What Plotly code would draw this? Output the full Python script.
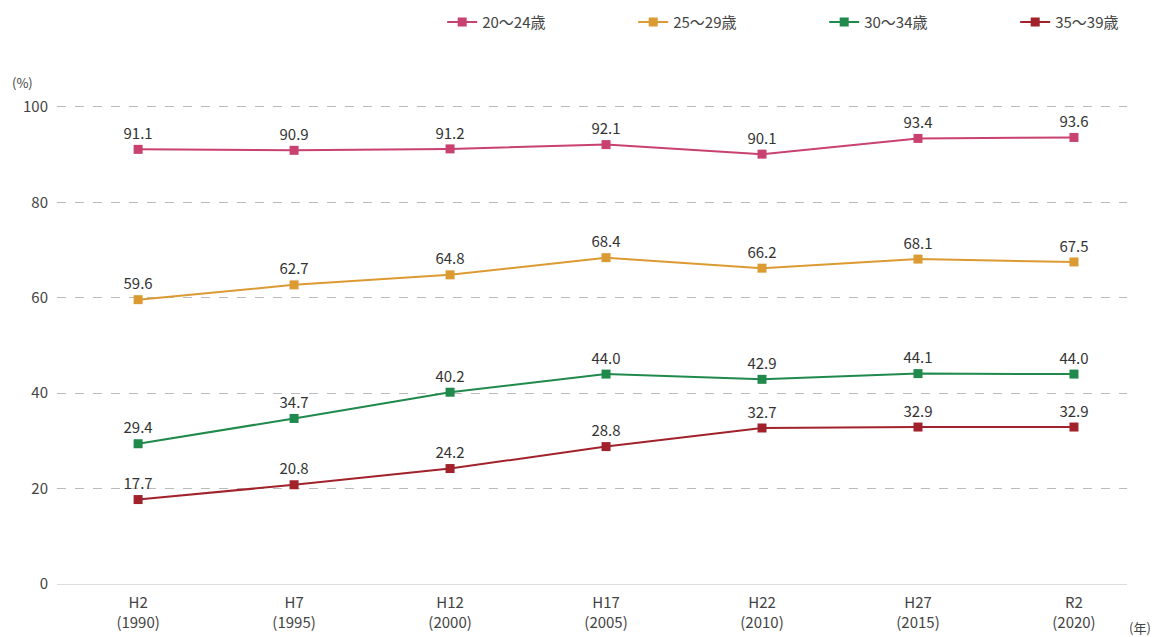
import plotly.graph_objects as go

# 年次（元号・西暦）
years = ["H2<br>(1990)", "H7<br>(1995)", "H12<br>(2000)", "H17<br>(2005)",
         "H22<br>(2010)", "H27<br>(2015)", "R2<br>(2020)"]

# 年齢階級別の未婚率（%）
age_20_24 = [91.1, 90.9, 91.2, 92.1, 90.1, 93.4, 93.6]
age_25_29 = [59.6, 62.7, 64.8, 68.4, 66.2, 68.1, 67.5]
age_30_34 = [29.4, 34.7, 40.2, 44.0, 42.9, 44.1, 44.0]
age_35_39 = [17.7, 20.8, 24.2, 28.8, 32.7, 32.9, 32.9]

series = [
    ("20～24歳", age_20_24, "#C9416F"),
    ("25～29歳", age_25_29, "#DB9A32"),
    ("30～34歳", age_30_34, "#1F8A4C"),
    ("35～39歳", age_35_39, "#A2222C"),
]

FONT = "Noto Sans CJK JP, Noto Sans, sans-serif"
xs = list(range(len(years)))

fig = go.Figure()
for name, vals, color in series:
    fig.add_trace(go.Scatter(
        x=xs, y=vals, name=name,
        mode="lines+markers+text",
        line=dict(color=color, width=2),
        marker=dict(symbol="square", size=9, color=color),
        text=[f"{v:.1f}" for v in vals],
        textposition="top center",
        textfont=dict(size=15, color="#333333", family=FONT),
        cliponaxis=False,
    ))

fig.update_layout(
    width=1161, height=637,
    margin=dict(l=57, r=34, t=105, b=53, autoexpand=False),
    paper_bgcolor="white", plot_bgcolor="white",
    font=dict(family=FONT, color="#444444", size=15),
    showlegend=True,
    legend=dict(orientation="h", x=0.36, xanchor="left",
                yref="container", y=0.965, yanchor="middle",
                font=dict(size=15, color="#444444"),
                entrywidth=146, entrywidthmode="pixels",
                traceorder="normal", bgcolor="rgba(0,0,0,0)"),
    xaxis=dict(range=[-0.52, 6.34], tickvals=xs, ticktext=years,
               showgrid=False, zeroline=False, showline=False, ticks="",
               ticklabelstandoff=8,
               tickfont=dict(size=15, color="#444444")),
    yaxis=dict(range=[0, 100.4], tickvals=[0, 20, 40, 60, 80, 100],
               showgrid=True, gridcolor="#BBBBBB", griddash="dash", gridwidth=1,
               zeroline=True, zerolinecolor="#DDDDDD", zerolinewidth=1,
               showline=False, ticks="", ticklabelstandoff=8,
               tickfont=dict(size=15, color="#444444")),
)

fig.add_annotation(text="(%)", xref="paper", yref="paper", x=-0.032, y=1.046,
                   yanchor="middle", showarrow=False,
                   font=dict(size=13, color="#444444"), xanchor="center")
fig.add_annotation(text="(年)", xref="paper", yref="paper", x=1.0, y=-0.09,
                   xanchor="left", yanchor="middle", showarrow=False,
                   font=dict(size=13, color="#444444"))

fig.write_html("out.html")
